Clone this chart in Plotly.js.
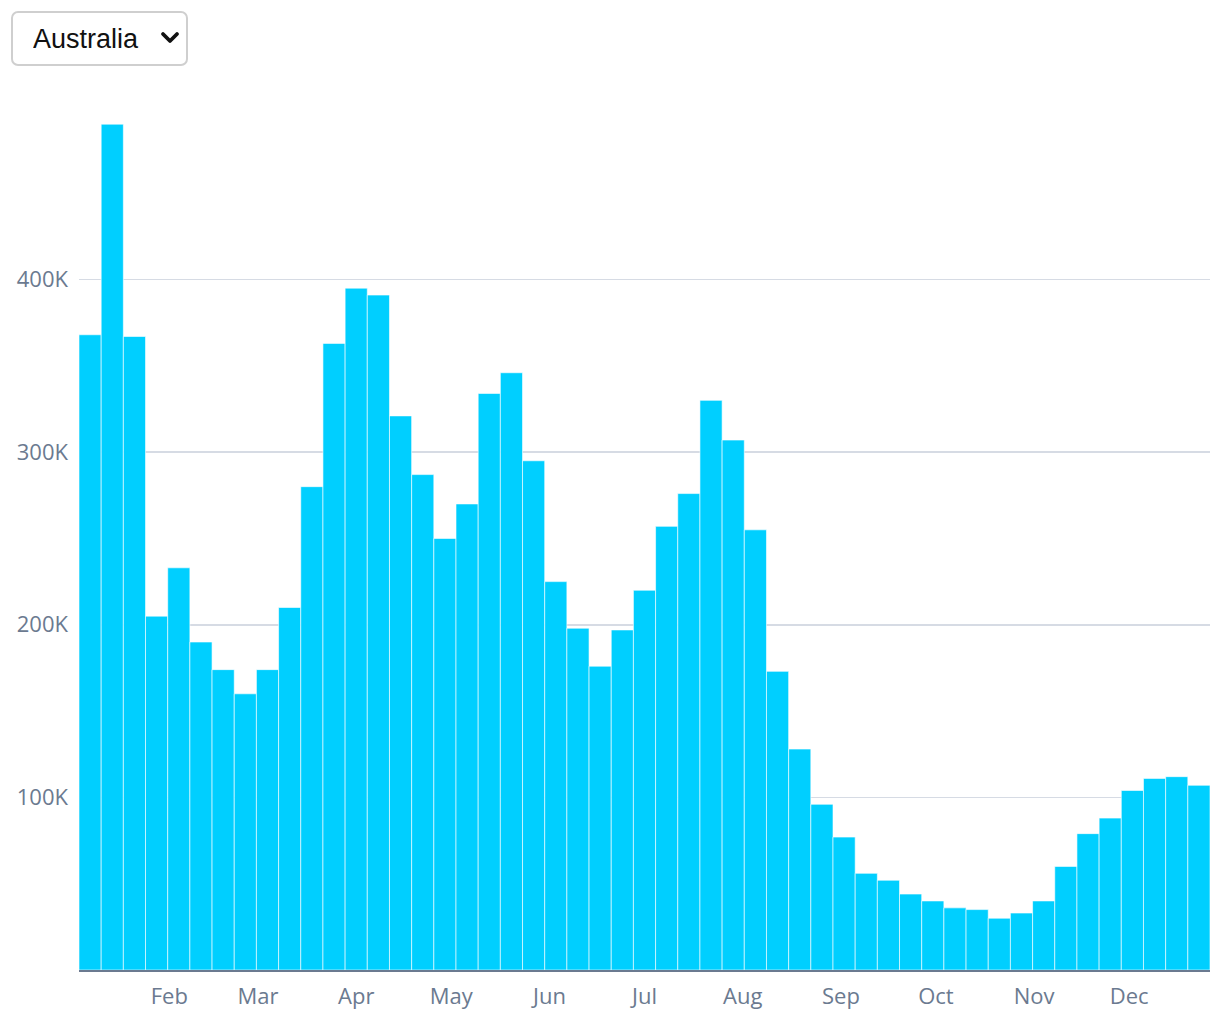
<!DOCTYPE html>
<html>
<head>
<meta charset="utf-8">
<script src="https://cdn.plot.ly/plotly-3.0.1.min.js"></script>
<style>
  html, body { margin: 0; padding: 0; background: #fff; width: 1220px; height: 1020px; overflow: hidden; }
  #wrap { position: relative; width: 1220px; height: 1020px; }
  #chart { position: absolute; left: 0; top: 0; width: 1220px; height: 1020px; }
  #country {
    position: absolute; left: 11px; top: 11px; z-index: 10;
    width: 177px; height: 55px;
    font-family: "Liberation Sans", Arial, sans-serif; font-size: 27px; color: #111;
    border: 2px solid #cfcfcf; border-radius: 7px; background: #fff;
    padding: 0 0 0 20px; box-sizing: border-box;
    -webkit-appearance: none; appearance: none;
  }
  #chev { position: absolute; left: 160px; top: 31px; z-index: 11; pointer-events: none; }
</style>
</head>
<body>
<div id="wrap">
  <select id="country"><option>Australia</option></select>
  <svg id="chev" width="20" height="14" viewBox="0 0 20 14"><polyline points="3,3 10,10 17,3" fill="none" stroke="#111" stroke-width="3.8" stroke-linecap="round" stroke-linejoin="round"/></svg>
  <div id="chart"></div>
</div>
<script>
// Weekly values (week centre dates)
const weekStart = '2022-01-07';
const weeklyCases = [
  368000, 490000, 367000, 205000, 233000, 190000, 174000, 160000, 174000, 210000,
  280000, 363000, 395000, 391000, 321000, 287000, 250000, 270000, 334000, 346000,
  295000, 225000, 198000, 176000, 197000, 220000, 257000, 276000, 330000, 307000,
  255000, 173000, 128000, 96000, 77000, 56000, 52000, 44000, 40000, 36000,
  35000, 30000, 33000, 40000, 60000, 79000, 88000, 104000, 111000, 112000,
  107000
];
const yTickVals = [100000, 200000, 300000, 400000];
const yTickText = ['100K', '200K', '300K', '400K'];
const xTickVals = ['2022-02-01','2022-03-01','2022-04-01','2022-05-01','2022-06-01','2022-07-01','2022-08-01','2022-09-01','2022-10-01','2022-11-01','2022-12-01'];
const xTickText = ['Feb','Mar','Apr','May','Jun','Jul','Aug','Sep','Oct','Nov','Dec'];

// build weekly date labels
const dates = weeklyCases.map((_, i) => {
  const d = new Date(weekStart + 'T00:00:00Z');
  d.setUTCDate(d.getUTCDate() + 7 * i);
  return d.toISOString().slice(0, 10);
});

const trace = {
  type: 'bar',
  x: dates,
  y: weeklyCases,
  marker: { color: '#00CFFF', line: { color: '#ffffff', width: 0.6 } },
  hoverinfo: 'x+y'
};

const tickFont = { family: '"Open Sans", "Noto Sans", sans-serif', size: 22, color: '#6b7a90' };

const layout = {
  width: 1220, height: 1020,
  margin: { l: 79, r: 10, t: 100, b: 50, pad: 0 },
  paper_bgcolor: '#ffffff', plot_bgcolor: '#ffffff',
  bargap: 0,
  showlegend: false,
  xaxis: {
    type: 'date',
    tickvals: xTickVals, ticktext: xTickText,
    tickfont: tickFont,
    showgrid: false, zeroline: false,
    showline: true, linecolor: '#6b7a90', linewidth: 2,
    ticks: '', ticklen: 0, ticklabelstandoff: 6,
    autorange: true
  },
  yaxis: {
    range: [0, 504000],
    tickvals: yTickVals, ticktext: yTickText,
    tickfont: tickFont,
    showgrid: true, gridcolor: '#d6dbe4', gridwidth: 1.5,
    zeroline: false, showline: false,
    ticks: '', ticklabelstandoff: 10
  }
};

Plotly.newPlot('chart', [trace], layout, { displayModeBar: false, staticPlot: true });
</script>
</body>
</html>
